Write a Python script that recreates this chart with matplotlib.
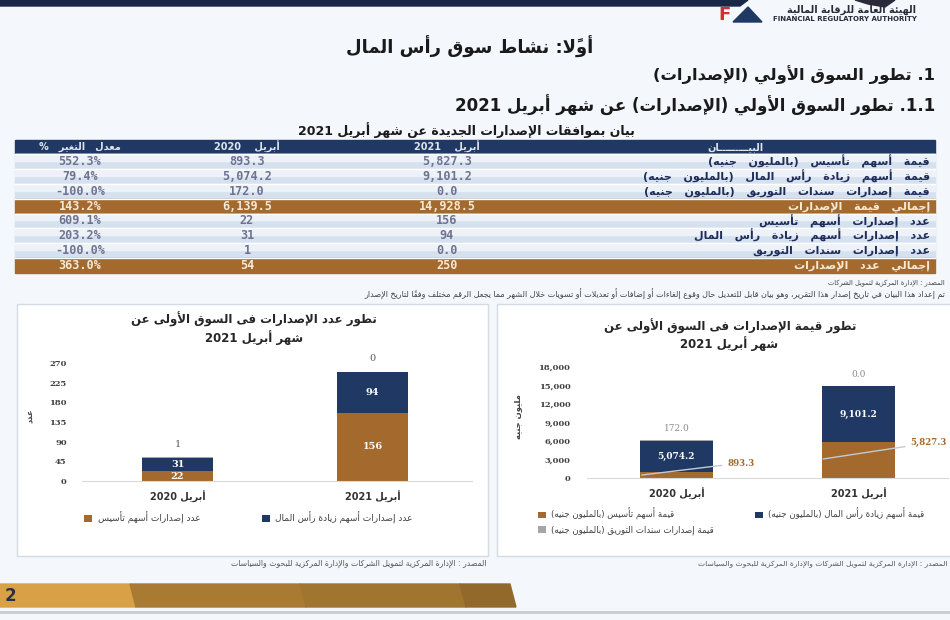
import re
import numpy as np
import matplotlib
matplotlib.use('Agg')
import matplotlib.pyplot as plt
from matplotlib.patches import Rectangle, Polygon
from matplotlib.ticker import FuncFormatter

# ---------------- data ----------------
periods = ['أبريل 2020', 'أبريل 2021']

val_tasis = [893.3, 5827.3]
val_increase = [5074.2, 9101.2]
val_bonds = [172.0, 0.0]

cnt_tasis = [22, 156]
cnt_increase = [31, 94]
cnt_bonds = [1, 0]

table_labels = [
    'قيمة أسهم تأسيس (بالمليون جنيه)',
    'قيمة أسهم زيادة رأس المال (بالمليون جنيه)',
    'قيمة إصدارات سندات التوريق (بالمليون جنيه)',
    'إجمالي قيمة الإصدارات',
    'عدد إصدارات أسهم تأسيس',
    'عدد إصدارات أسهم زيادة رأس المال',
    'عدد إصدارات سندات التوريق',
    'إجمالي عدد الإصدارات',
]
table_2021 = ['5,827.3', '9,101.2', '0.0', '14,928.5', '156', '94', '0.0', '250']
table_2020 = ['893.3', '5,074.2', '172.0', '6,139.5', '22', '31', '1', '54']
table_change = ['552.3%', '79.4%', '-100.0%', '143.2%', '609.1%', '203.2%', '-100.0%', '363.0%']
total_rows = [3, 7]

NAVY = '#1f3864'
BROWN = '#a3692d'
GRAY = '#a6a6a6'

# ------------- arabic shaping (matplotlib draws glyphs left to right, unjoined) -------------
AR_LETTERS = 'ءآأؤإئابةتثجحخدذرزسشصضطظعغفقكلمنهوىي'
AR_NFORMS = [1, 2, 2, 2, 2, 4, 2, 4, 2, 4, 4, 4, 4, 4, 2, 2, 2, 2,
             4, 4, 4, 4, 4, 4, 4, 4, 4, 4, 4, 4, 4, 4, 4, 2, 2, 4]
FORMS = {}
code = 0xFE80
for ch, n in zip(AR_LETTERS, AR_NFORMS):
    FORMS[ch] = [chr(code + k) for k in range(n)]
    code += n
LAM_ALEF = {'آ': 0xFEF5, 'أ': 0xFEF7, 'إ': 0xFEF9, 'ا': 0xFEFB}
MARKS = set(chr(c) for c in range(0x064B, 0x0653))
TATWEEL = 'ـ'


def dual(c):
    return c == TATWEEL or (c in FORMS and len(FORMS[c]) == 4)


def joining(c):
    return c == TATWEEL or (c in FORMS and len(FORMS[c]) > 1)


def shape(text):
    letters = []
    for c in text:
        if c in MARKS and letters:
            letters[-1][1] += c
        else:
            letters.append([c, ''])
    out = []
    prev = None
    i = 0
    while i < len(letters):
        c, m = letters[i]
        nxt = letters[i + 1][0] if i + 1 < len(letters) else None
        if c == 'ل' and nxt in LAM_ALEF:
            cp = LAM_ALEF[nxt] + (1 if prev is not None and dual(prev) else 0)
            out.append(chr(cp) + m + letters[i + 1][1])
            prev = nxt
            i += 2
            continue
        if c in FORMS:
            f = FORMS[c]
            p = len(f) > 1 and prev is not None and dual(prev)
            q = len(f) == 4 and nxt is not None and joining(nxt)
            idx = 3 if (p and q) else 1 if p else 2 if q else 0
            out.append(f[idx] + m)
        else:
            out.append(c + m)
        prev = c
        i += 1
    return out


LTR_RE = re.compile(r'[0-9A-Za-z]+(?:[.,][0-9A-Za-z]+)*')
MIRROR = {'(': ')', ')': '('}


def ar(text, gap=1):
    if gap > 1:
        text = (' ' * gap).join(text.split(' '))
    parts = []
    pos = 0
    for mt in LTR_RE.finditer(text):
        if mt.start() > pos:
            parts.append(('r', text[pos:mt.start()]))
        parts.append(('l', mt.group()))
        pos = mt.end()
    if pos < len(text):
        parts.append(('r', text[pos:]))
    vis = ''
    for kind, s in reversed(parts):
        if kind == 'l':
            vis += s
        else:
            vis += ''.join(MIRROR.get(x, x) for x in reversed(shape(s)))
    return vis


plt.rcParams['font.family'] = ['DejaVu Sans']

W, H = 950, 620
fig = plt.figure(figsize=(9.5, 6.2), dpi=100, facecolor='#f4f7fb')
bg = fig.add_axes([0, 0, 1, 1])
bg.set_xlim(0, W)
bg.set_ylim(H, 0)
bg.axis('off')

# top band + logo
bg.add_patch(Polygon([(0, 0), (748, 0), (740, 6), (0, 6)], color='#1b2747'))
bg.add_patch(Polygon([(855, 0), (895, 0), (885, 7), (868, 4)], color='#2a2a3a'))
bg.add_patch(Polygon([(733, 22), (748, 7), (762, 22)], color=NAVY))
bg.text(724, 15, 'F', color='#d62c2c', fontsize=13, fontweight='bold', ha='center', va='center')
bg.text(916, 10, ar('الهيئة العامة للرقابة المالية'), fontsize=7, fontweight='bold',
        ha='right', va='center', color='#2a2a3a')
bg.text(917, 19, 'FINANCIAL REGULATORY AUTHORITY', fontsize=5, fontweight='bold',
        ha='right', va='center', color='#2a2a3a')

# headings
bg.text(470, 47, ar('أولاً: نشاط سوق رأس المال'), fontsize=13, fontweight='bold',
        ha='center', va='center', color='#1a1a1a')
bg.text(935, 75, ar('1. تطور السوق الأولي (الإصدارات)'), fontsize=11.8, fontweight='bold',
        ha='right', va='center', color='#1a1a1a')
bg.text(935, 105, ar('1.1. تطور السوق الأولي (الإصدارات) عن شهر أبريل 2021'), fontsize=12,
        fontweight='bold', ha='right', va='center', color='#1a1a1a')
bg.text(466, 130, ar('بيان بموافقات الإصدارات الجديدة عن شهر أبريل 2021'), fontsize=9,
        fontweight='bold', ha='center', va='center', color='#1a1a1a')

# table
TX0, TX1 = 15, 935
top = 139.5
rh = 14.8
cols = [80, 247, 447]
bg.add_patch(Rectangle((TX0, top), TX1 - TX0, rh, color=NAVY))
hdr = [ar('معدل التغير %', 3), ar('أبريل 2020', 4), ar('أبريل 2021', 4)]
for cx, t in zip(cols, hdr):
    bg.text(cx, top + rh / 2, t, fontsize=7, fontweight='bold', color='#dfe3ee',
            ha='center', va='center')
bg.text(735, top + rh / 2, ar('البيـــــــــان'), fontsize=7, fontweight='bold', color='#dfe3ee',
        ha='center', va='center')
for i in range(len(table_labels)):
    y = top + (i + 1) * rh
    if i in total_rows:
        bg.add_patch(Rectangle((TX0, y), TX1 - TX0, rh, color=BROWN))
        vc, lc = '#f5e9d8', '#f5e9d8'
    else:
        bg.add_patch(Rectangle((TX0, y), TX1 - TX0, rh, color='#d6e1ef'))
        bg.add_patch(Rectangle((TX0, y), TX1 - TX0, rh * 0.45, color='#edf2f8'))
        vc, lc = '#6f7290', '#1f2d5a'
    bg.plot([TX0, TX1], [y, y], color='white', lw=1)
    for cx, t in zip(cols, [table_change[i], table_2020[i], table_2021[i]]):
        bg.text(cx, y + rh / 2, t, fontsize=8.5, family='DejaVu Sans Mono', fontweight='bold',
                color=vc, ha='center', va='center')
    bg.text(930, y + rh / 2, ar(table_labels[i], 3), fontsize=8, fontweight='bold',
            color=lc, ha='right', va='center')

bg.text(945, 283, ar('المصدر : الإدارة المركزية لتمويل الشركات'), fontsize=4.8,
        ha='right', va='center', color='#444444')
bg.text(945, 294, ar('تم إعداد هذا البيان في تاريخ إصدار هذا التقرير، وهو بيان قابل للتعديل حال وقوع '
                     'إلغاءات أو إضافات أو تعديلات أو تسويات خلال الشهر مما يجعل الرقم مختلف وفقاً لتاريخ الإصدار'),
        fontsize=5.8, ha='right', va='center', color='#444444')

# panels
bg.add_patch(Rectangle((17, 304), 471, 252, facecolor='white', edgecolor='#d5dbe4', lw=1))
bg.add_patch(Rectangle((497, 304), 460, 252, facecolor='white', edgecolor='#d5dbe4', lw=1))
src = ar('المصدر : الإدارة المركزية لتمويل الشركات والإدارة المركزية للبحوث والسياسات')
bg.text(486, 564, src, fontsize=5.6, ha='right', va='center', color='#555555')
bg.text(947, 564, src, fontsize=5.4, ha='right', va='center', color='#555555')

# chart titles
bg.text(254, 319, ar('تطور عدد الإصدارات فى السوق الأولى عن'), fontsize=8.5, fontweight='bold',
        ha='center', va='center', color='#262626')
bg.text(254, 338, ar('شهر أبريل 2021'), fontsize=8.5, fontweight='bold',
        ha='center', va='center', color='#262626')
bg.text(730, 326, ar('تطور قيمة الإصدارات فى السوق الأولى عن'), fontsize=8.5, fontweight='bold',
        ha='center', va='center', color='#262626')
bg.text(729, 344, ar('شهر أبريل 2021'), fontsize=8.5, fontweight='bold',
        ha='center', va='center', color='#262626')

# bottom gold bar
bg.add_patch(Polygon([(0, 584), (130, 584), (136, 607), (0, 607)], color='#d9a145'))
bg.add_patch(Polygon([(130, 584), (300, 584), (306, 607), (136, 607)], color='#a97a31'))
bg.add_patch(Polygon([(300, 584), (460, 584), (466, 607), (306, 607)], color='#9f752f'))
bg.add_patch(Polygon([(460, 584), (510, 584), (516, 607), (466, 607)], color='#93692b'))
bg.text(5, 596, '2', fontsize=12, fontweight='bold', color='#2b2f4b', ha='left', va='center')
bg.plot([0, W], [612, 612], color='#c9cdd3', lw=2)

x = np.arange(len(periods))
tick_font = dict(family='DejaVu Serif', fontweight='bold', fontsize=6, color='#404040')


def style_axis(ax):
    for s in ['top', 'right', 'left']:
        ax.spines[s].set_visible(False)
    ax.spines['bottom'].set_color('#d9d9d9')
    ax.tick_params(length=0)
    ax.set_facecolor('none')
    for lab in ax.get_yticklabels():
        lab.set(**tick_font)


# ---------- left chart: counts ----------
ax1 = fig.add_axes([82 / W, 1 - 481 / H, 390 / W, 118 / H])
w1 = 0.36
c1 = ax1.bar(x, cnt_tasis, w1, color=BROWN, label=ar('عدد إصدارات أسهم تأسيس'))
c2 = ax1.bar(x, cnt_increase, w1, bottom=cnt_tasis, color=NAVY,
             label=ar('عدد إصدارات أسهم زيادة رأس المال'))
c3 = ax1.bar(x, cnt_bonds, w1, bottom=np.add(cnt_tasis, cnt_increase), color=GRAY)
ax1.set_xlim(-0.49, 1.51)
ax1.set_ylim(0, 270)
ax1.set_yticks(np.arange(0, 271, 45))
ax1.tick_params(axis='y', pad=11)
ax1.tick_params(axis='x', pad=7)
ax1.set_xticks(x, [ar(p) for p in periods], fontsize=7, fontweight='bold', color='#333333')
style_axis(ax1)
ax1.bar_label(c1, label_type='center', color='white', fontsize=7, fontweight='bold', family='DejaVu Serif')
ax1.bar_label(c2, label_type='center', color='white', fontsize=7, fontweight='bold', family='DejaVu Serif')
ax1.bar_label(c3, labels=[str(v) for v in cnt_bonds], padding=6, color='#595959',
              fontsize=7, family='DejaVu Serif')
ax1.set_ylabel(ar('عدد'), fontsize=6, fontweight='bold', color='#404040')
ax1.yaxis.set_label_coords(-0.12, 0.55)
ax1.legend(handles=[c1, c2], ncol=2, loc='upper left', bbox_to_anchor=(-0.015, -0.19),
           frameon=False, fontsize=6.5, handlelength=0.9, handleheight=0.8,
           columnspacing=6.8, handletextpad=0.6, labelcolor='#404040')

# ---------- right chart: values ----------
ax2 = fig.add_axes([587 / W, 1 - 478 / H, 361 / W, 111 / H])
w2 = 0.40
v1 = ax2.bar(x, val_tasis, w2, color=BROWN, label=ar('قيمة أسهم تأسيس (بالمليون جنيه)'))
v2 = ax2.bar(x, val_increase, w2, bottom=val_tasis, color=NAVY,
             label=ar('قيمة أسهم زيادة رأس المال (بالمليون جنيه)'))
v3 = ax2.bar(x, val_bonds, w2, bottom=np.add(val_tasis, val_increase), color=GRAY,
             label=ar('قيمة إصدارات سندات التوريق (بالمليون جنيه)'))
ax2.set_xlim(-0.49, 1.49)
ax2.set_ylim(0, 18000)
ax2.set_yticks(np.arange(0, 18001, 3000))
ax2.yaxis.set_major_formatter(FuncFormatter(lambda v, p: f'{v:,.0f}'))
ax2.tick_params(axis='y', pad=12)
ax2.tick_params(axis='x', pad=7)
ax2.set_xticks(x, [ar(p) for p in periods], fontsize=7, fontweight='bold', color='#333333')
style_axis(ax2)
ax2.bar_label(v2, labels=[f'{v:,.1f}' for v in val_increase], label_type='center',
              color='white', fontsize=6.5, fontweight='bold', family='DejaVu Serif')
ax2.bar_label(v3, labels=[f'{v:,.1f}' for v in val_bonds], padding=5,
              color='#8c8c8c', fontsize=6.5, family='DejaVu Serif')
leader = [((-0.19, 480), (0.28, 2430)), ((0.805, 3080), (1.285, 5680))]
for i, (p0, p1) in enumerate(leader):
    ax2.annotate(f'{val_tasis[i]:,.1f}', xy=p0, xytext=p1, color=BROWN, fontsize=6.2,
                 fontweight='bold', family='DejaVu Serif', ha='left', va='center',
                 annotation_clip=False,
                 arrowprops=dict(arrowstyle='-', color='#c3c9d4', lw=1, shrinkA=2, shrinkB=0))
ax2.set_ylabel(ar('مليون جنيه'), fontsize=6, fontweight='bold', color='#404040')
ax2.yaxis.set_label_coords(-0.18, 0.55)
ax2.legend(handles=[v1, v3, v2], ncol=2, loc='upper left', bbox_to_anchor=(-0.156, -0.2),
           frameon=False, fontsize=6.2, handlelength=0.9, handleheight=0.8,
           columnspacing=4.8, handletextpad=0.6, labelcolor='#404040', labelspacing=0.6)

fig.savefig('out.png', dpi=100, facecolor=fig.get_facecolor())
